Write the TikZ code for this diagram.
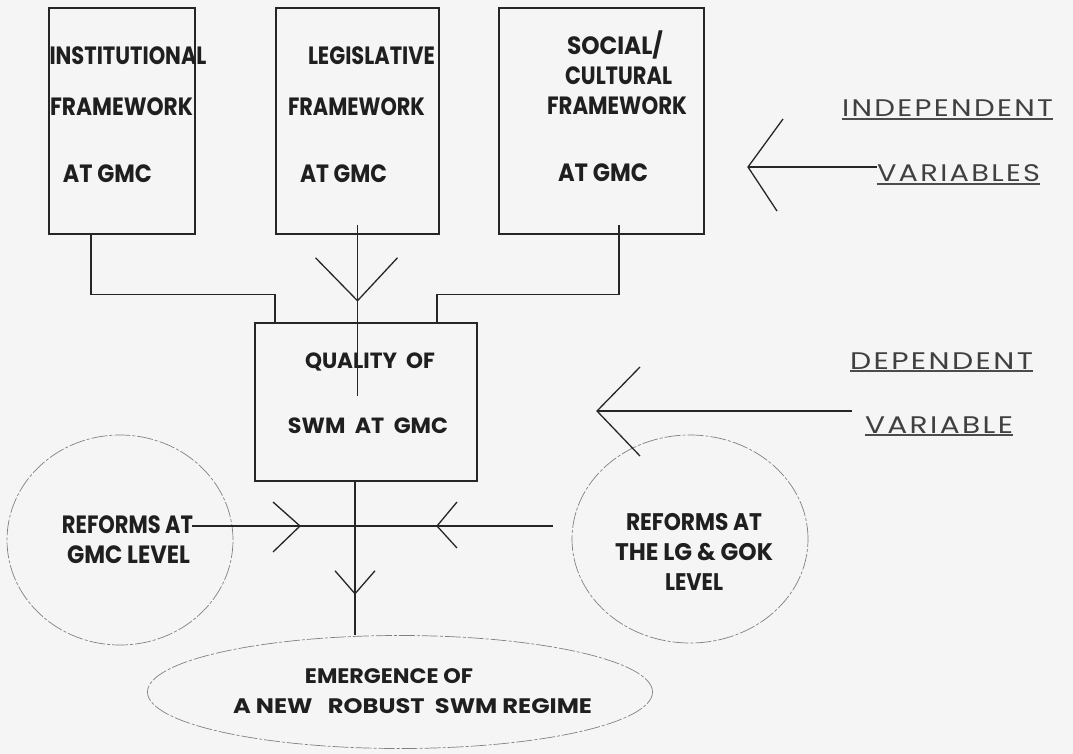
\documentclass[tikz,border=0pt]{standalone}
\usepackage{fontspec}
\usepackage{graphicx}
\setmainfont{Poppins}
\newfontfamily\varfont[LetterSpace=8]{Poppins}
\usetikzlibrary{calc,shapes.geometric}
\newcommand\fitw[2]{\resizebox{#1pt}{\height}{#2}}
\begin{document}
\begin{tikzpicture}[x=1pt,y=-1pt,
  ink/.style={draw=black!85,line width=1.5pt},
  box/.style={ink,rectangle,inner sep=0pt},
  oval/.style={draw=black!50,line width=0.7pt,dash pattern=on 16pt off 2pt on 3pt off 2pt,ellipse,inner sep=0pt},
  conn/.style={draw=black!85,line width=1.3pt},
  barb/.style={draw=black!85,line width=1.3pt,line join=miter},
  uline/.style={draw=black!70,line width=1.1pt},
  bt/.style={anchor=base,inner sep=0pt,text=black!88,font=\bfseries\fontsize{25}{28}\selectfont},
  qt/.style={bt,font=\bfseries\fontsize{22}{24}\selectfont},
  et/.style={bt,font=\bfseries\fontsize{25}{28}\selectfont},
  rt/.style={bt,font=\bfseries\fontsize{24}{26}\selectfont},
  bo/.style={bt,font=\bfseries\fontsize{21}{23}\selectfont},
  vt/.style={anchor=base,inner sep=0pt,text=black!75,font=\varfont\fontsize{24}{26}\selectfont},
]
\fill[black!4] (0,0) rectangle (1073,754);
\useasboundingbox (0,0) rectangle (1073,754);

% boxes and ovals
\node[box,minimum width=146pt,minimum height=226pt] (inst) at (122,121) {};
\node[box,minimum width=163pt,minimum height=226pt] (legi) at (357.5,121) {};
\node[box,minimum width=205pt,minimum height=226pt] (soc) at (601.5,121) {};
\node[box,minimum width=222pt,minimum height=158pt] (qual) at (366,402) {};
\node[oval,minimum width=226pt,minimum height=210pt] (ellL) at (120,540) {};
\node[oval,minimum width=236pt,minimum height=208pt] (ellR) at (690,539) {};
\node[oval,minimum width=505pt,minimum height=113pt] (ellB) at (400,692) {};

% texts
\node[bt] (i1) at (128,65) {\fitw{157}{INSTITUTIONAL}};
\node[bt] (i2) at (121.5,116) {\fitw{143}{FRAMEWORK}};
\node[bt] (i3) at (107.5,183) {\fitw{89}{AT GMC}};
\node[bt] (l1) at (371.5,65) {\fitw{127}{LEGISLATIVE}};
\node[bt] (l2) at (356.5,116) {\fitw{137}{FRAMEWORK}};
\node[bt] (l3) at (343.5,183) {\fitw{87}{AT GMC}};
\node[bt] (s1) at (615,55) {\fitw{96}{SOCIAL/}};
\node[bt] (s2) at (618.5,85) {\fitw{107}{CULTURAL}};
\node[bt] (s3) at (617,115) {\fitw{140}{FRAMEWORK}};
\node[bt] (s4) at (603,182) {\fitw{90}{AT GMC}};
\node[qt] (q1) at (370,368) {\fitw{130}{QUALITY\ \ OF}};
\node[qt] (q2) at (368,433) {\fitw{160}{SWM\ \ AT\ \ GMC}};
\node[et] (g1) at (127.5,533) {\fitw{131}{REFORMS AT}};
\node[et] (g2) at (128.5,563) {\fitw{123}{GMC LEVEL}};
\node[rt] (r1) at (694,530) {\fitw{136}{REFORMS AT}};
\node[rt] (r2) at (694,560) {\fitw{158}{THE LG \& GOK}};
\node[rt] (r3) at (694,590) {\fitw{58}{LEVEL}};
\node[bo] (b1) at (389,683) {\fitw{168}{EMERGENCE OF}};
\node[bo] (b2) at (412.5,713) {\fitw{359}{A NEW\ \ \ ROBUST\ \ SWM REGIME}};
\node[vt] (ind) at (947.5,117) {\fitw{211}{INDEPENDENT}};
\node[vt] (vars) at (958.5,182) {\fitw{163}{VARIABLES}};
\node[vt] (dep) at (941.5,369) {\fitw{183}{DEPENDENT}};
\node[vt] (var) at (939,433) {\fitw{148}{VARIABLE}};
\foreach \n in {ind,vars,dep,var}
  \draw[uline] ([yshift=-2pt]\n.base west) -- ([yshift=-2pt]\n.base east);

% connectors
\draw[conn] ([xshift=-31pt]inst.south) |- ($(qual.north)+(-91,-28)$) -- ($(qual.north)+(-91,0)$);
\draw[conn] ($(legi.south)+(0,-10)$) -- ($(legi.south |- qual.north)+(0,74)$);
\draw[barb] ($(legi.south)+(-42,23)$) -- ($(legi.south)+(0,66)$) -- ($(legi.south)+(40,23)$);
\draw[conn] ($(soc.south)+(17.5,-10)$) |- ($(qual.north)+(71,-28)$) -- ($(qual.north)+(71,0)$);

\coordinate (dn) at ($(qual.south)+(-11,0)$);
\draw[conn] (dn) -- (dn |- ellB.north);
\draw[barb] ($(dn)+(-20,89)$) -- ($(dn)+(0,112)$) -- ($(dn)+(20,89)$);

\coordinate (hl) at ($(ellL.center)+(72,-14)$);
\draw[conn] (hl) -- ($(ellR.center)+(-137,-13)$);
\draw[barb] ($(hl)+(81,-24)$) -- ($(hl)+(108,0)$) -- ($(hl)+(81,26)$);
\draw[barb] ($(hl)+(265,-24)$) -- ($(hl)+(245,0)$) -- ($(hl)+(265,22)$);

\coordinate (itip) at (748,167);
\draw[conn] (itip) -- (itip -| vars.west);
\draw[barb] ($(itip)+(35,-48)$) -- (itip) -- ($(itip)+(29,44)$);

\coordinate (dtip) at (597,411);
\draw[conn] (dtip) -- ($(var.west |- dtip)+(-13,0)$);
\draw[barb] ($(dtip)+(43,-44)$) -- (dtip) -- ($(dtip)+(43,45)$);
\end{tikzpicture}
\end{document}
